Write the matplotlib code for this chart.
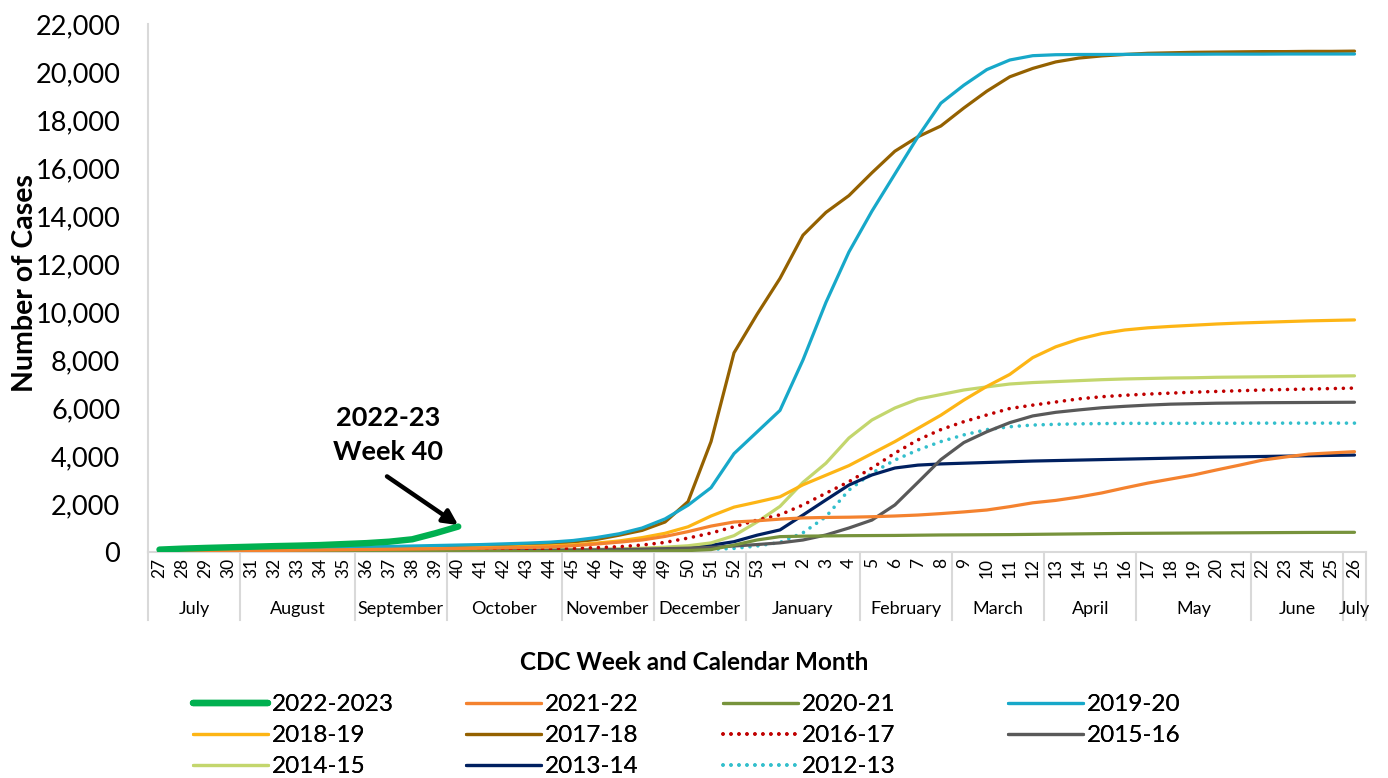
import matplotlib.pyplot as plt
from matplotlib.ticker import FuncFormatter

plt.rcParams['font.family'] = ['Lato', 'DejaVu Sans']

# CDC weeks, July to July
weeks = [str(w) for w in range(27, 54)] + [str(w) for w in range(1, 27)]

months = ["July", "August", "September", "October", "November", "December",
          "January", "February", "March", "April", "May", "June", "July"]
month_sizes = [4, 5, 4, 5, 4, 4, 5, 4, 4, 4, 5, 4, 1]

# cumulative cases per season
s2022 = [100, 140, 170, 195, 220, 245, 265, 290, 330, 370, 430, 530, 780, 1060]

s2021 = [15, 25, 35, 45, 55, 65, 75, 85, 95, 105, 115, 125, 135, 145, 160, 175, 190, 210,
         260, 330, 410, 500, 650, 850, 1080, 1250, 1300, 1370, 1420, 1440, 1450, 1470,
         1500, 1540, 1600, 1670, 1750, 1890, 2050, 2150, 2290, 2460, 2670, 2870, 3040,
         3210, 3420, 3620, 3830, 3960, 4080, 4130, 4180]

s2020 = [2, 3, 4, 5, 6, 7, 8, 9, 10, 11, 12, 13, 14, 15, 16, 17, 18, 20,
         22, 25, 30, 35, 45, 60, 100, 290, 500, 640, 660, 670, 680, 685, 690, 700,
         710, 715, 720, 725, 735, 745, 755, 765, 775, 780, 785, 790, 795, 800, 805,
         810, 815, 818, 820]

s2019 = [30, 50, 70, 90, 110, 130, 150, 170, 190, 210, 230, 250, 270, 290, 310, 340, 370, 410,
         480, 600, 760, 1000, 1380, 1950, 2680, 4100, 5000, 5900, 8000, 10400, 12500,
         14200, 15750, 17300, 18700, 19450, 20100, 20500, 20680, 20720, 20730, 20730,
         20735, 20740, 20740, 20740, 20745, 20745, 20745, 20750, 20750, 20750, 20750]

s2018 = [10, 20, 30, 40, 50, 60, 70, 80, 90, 100, 115, 130, 145, 160, 180, 200, 225, 255,
         300, 370, 460, 600, 780, 1050, 1500, 1870, 2080, 2300, 2800, 3200, 3600, 4100,
         4600, 5150, 5700, 6330, 6900, 7400, 8100, 8550, 8870, 9100, 9250, 9340, 9400,
         9450, 9500, 9540, 9570, 9600, 9630, 9650, 9670]

s2017 = [20, 35, 50, 65, 80, 95, 110, 125, 140, 160, 180, 200, 220, 240, 265, 290, 320, 350,
         420, 520, 700, 900, 1250, 2100, 4600, 8300, 9900, 11400, 13200, 14150, 14850,
         15800, 16700, 17300, 17750, 18500, 19200, 19800, 20150, 20420, 20580, 20670,
         20730, 20780, 20800, 20820, 20830, 20840, 20850, 20850, 20860, 20860, 20870]

s2016 = [5, 8, 10, 15, 20, 25, 30, 35, 40, 45, 50, 60, 70, 80, 90, 100, 115, 130,
         150, 180, 220, 290, 400, 580, 790, 1050, 1330, 1550, 1960, 2450, 2930, 3500,
         4120, 4670, 5100, 5430, 5710, 5980, 6120, 6250, 6380, 6470, 6530, 6580, 6620,
         6660, 6690, 6720, 6750, 6770, 6790, 6810, 6830]

s2015 = [5, 8, 10, 12, 15, 18, 20, 22, 25, 28, 30, 35, 40, 45, 50, 55, 60, 70,
         80, 90, 100, 120, 140, 160, 190, 250, 310, 380, 500, 710, 1000, 1330, 1960,
         2900, 3850, 4560, 5010, 5390, 5670, 5820, 5920, 6010, 6070, 6120, 6160, 6180,
         6200, 6210, 6220, 6225, 6230, 6235, 6240]

s2014 = [5, 8, 10, 12, 15, 18, 20, 25, 30, 35, 40, 45, 50, 55, 60, 70, 80, 90,
         100, 110, 130, 160, 200, 260, 380, 680, 1250, 1900, 2900, 3700, 4750, 5500,
         6000, 6370, 6560, 6750, 6880, 7000, 7060, 7100, 7140, 7180, 7210, 7230, 7250,
         7260, 7280, 7290, 7300, 7310, 7320, 7330, 7340]

s2013 = [5, 8, 10, 12, 15, 18, 20, 22, 25, 28, 30, 33, 36, 40, 45, 50, 60, 70,
         80, 95, 110, 130, 170, 220, 280, 430, 700, 920, 1540, 2170, 2790, 3210, 3500,
         3620, 3670, 3700, 3730, 3760, 3790, 3810, 3830, 3850, 3870, 3890, 3910, 3930,
         3950, 3965, 3980, 3995, 4010, 4025, 4040]

s2012 = [5, 5, 8, 10, 12, 14, 16, 18, 20, 22, 25, 28, 30, 33, 36, 40, 45, 50,
         55, 60, 70, 80, 90, 100, 110, 150, 250, 400, 800, 1470, 2580, 3290, 3830,
         4250, 4600, 4880, 5100, 5220, 5290, 5320, 5340, 5350, 5360, 5360, 5360, 5365,
         5365, 5365, 5370, 5370, 5370, 5370, 5370]

DOT = (0, (0.01, 2.2))
# label, data, colour, width, style
series = [
    ("2022-2023", s2022, "#00B050", 4.6, "-"),
    ("2021-22", s2021, "#F4822F", 2.3, "-"),
    ("2020-21", s2020, "#77933C", 2.3, "-"),
    ("2019-20", s2019, "#17A8C9", 2.3, "-"),
    ("2018-19", s2018, "#FDB515", 2.3, "-"),
    ("2017-18", s2017, "#946100", 2.3, "-"),
    ("2016-17", s2016, "#C00000", 2.6, DOT),
    ("2015-16", s2015, "#595959", 2.3, "-"),
    ("2014-15", s2014, "#C3D66D", 2.3, "-"),
    ("2013-14", s2013, "#002060", 2.3, "-"),
    ("2012-13", s2012, "#33BFCC", 2.6, DOT),
]

fig = plt.figure(figsize=(13.88, 7.78), dpi=100)
ax = fig.add_axes([148 / 1388, 1 - 552 / 778, (1366 - 148) / 1388, (552 - 24) / 778])

lines = {}
for z, (name, vals, col, lw, ls) in enumerate(reversed(series)):
    x = list(range(len(vals)))
    ln, = ax.plot(x, vals, color=col, lw=lw, ls=ls, label=name,
                  solid_capstyle="round", dash_capstyle="round", zorder=2 + z)
    lines[name] = ln

ax.set_xlim(-0.5, len(weeks) - 0.5)
ax.set_ylim(0, 22000)
ax.set_yticks(range(0, 22001, 2000))
ax.yaxis.set_major_formatter(FuncFormatter(lambda v, p: f"{int(v):,}"))
ax.tick_params(axis="y", length=0, pad=20, labelsize=19.5)
ax.set_xticks(range(len(weeks)))
ax.set_xticklabels(weeks, rotation=90, fontsize=12.5)
ax.tick_params(axis="x", length=0, pad=4)

for s in ["top", "right"]:
    ax.spines[s].set_visible(False)
ax.spines["left"].set_color("#D9D9D9")
ax.spines["bottom"].set_color("#D9D9D9")
ax.spines["left"].set_linewidth(1.5)
ax.spines["bottom"].set_linewidth(1.5)

# month separators and labels below the week numbers
trans = ax.get_xaxis_transform()
sep_bottom = -(620 - 552) / (552 - 24)
start = 0
bounds = [-0.5]
for m, n in zip(months, month_sizes):
    end = start + n
    ax.text((start + end - 1) / 2, -(609 - 552) / (552 - 24), m, transform=trans,
            ha="center", va="center", fontsize=13)
    bounds.append(end - 0.5)
    start = end
for b in bounds:
    ax.plot([b, b], [0, sep_bottom], transform=trans, color="#D9D9D9", lw=1.5,
            clip_on=False)

fig.text(25 / 1388, 1 - 283 / 778, "Number of Cases", rotation=90, ha="center",
         va="center", fontsize=20.5, fontweight="bold")
fig.text(0.5, 1 - 663 / 778, "CDC Week and Calendar Month", ha="center", va="center",
         fontsize=17.5, fontweight="bold")

# annotation for current season
ax.text(9.95, 3650, "2022-23\nWeek 40", ha="center", va="bottom", fontsize=19.5,
        fontweight="bold", linespacing=1.5)
ax.annotate("", xy=(13, s2022[-1] + 60), xytext=(9.9, 3150),
            arrowprops=dict(arrowstyle="-|>", color="black", lw=3.2, mutation_scale=22,
                            shrinkA=0, shrinkB=0))

# legend: four columns placed like the original
names = [s[0] for s in series]
cols = [names[0::4], names[1::4], names[2::4], names[3::4]]
col_x = [193, 466, 723, 1008]
for cx, cnames in zip(col_x, cols):
    lg = fig.legend([lines[n] for n in cnames], cnames, loc="upper left",
                    bbox_to_anchor=(cx / 1388, 1 - 694 / 778), frameon=False,
                    fontsize=17.5, handlelength=3.1, handletextpad=0.15,
                    labelspacing=0.42, borderaxespad=0, borderpad=0)
    fig.add_artist(lg)

fig.savefig("out.png", dpi=100)
